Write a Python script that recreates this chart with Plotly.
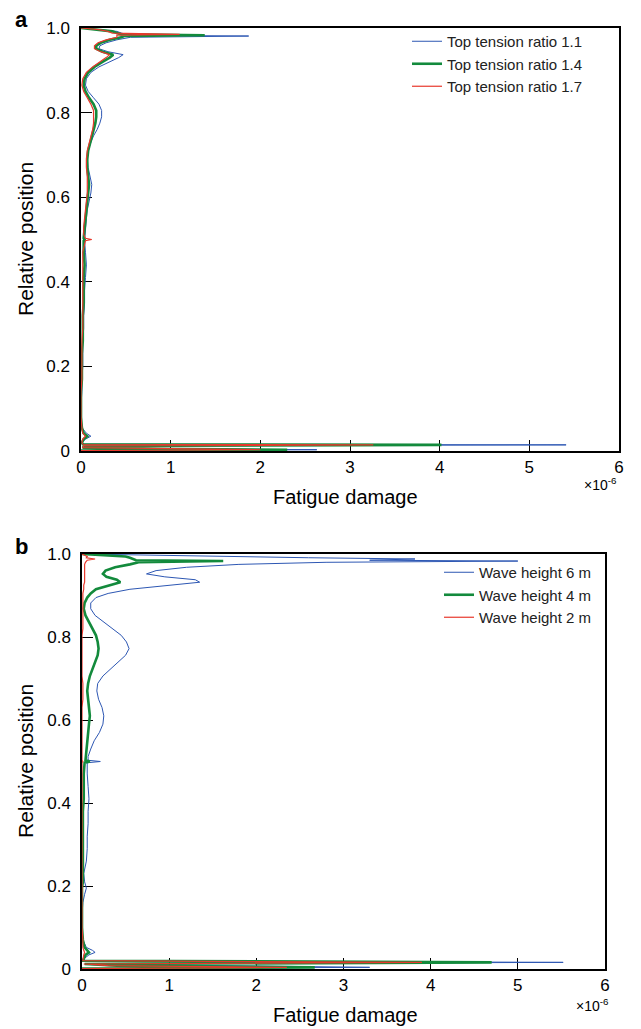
import plotly.graph_objects as go

W, H = 641, 1029

# ---------------- (a) top tension ratio ----------------
position_a = [
    1.000, 0.996, 0.992, 0.988, 0.985, 0.983, 0.981, 0.978, 0.972, 0.965,
    0.958, 0.951, 0.944, 0.937, 0.930, 0.920, 0.908, 0.895, 0.880, 0.865,
    0.850, 0.835, 0.820, 0.805, 0.790, 0.775, 0.760, 0.745, 0.730, 0.710,
    0.690, 0.670, 0.650, 0.630, 0.610, 0.590, 0.570, 0.550, 0.530, 0.512,
    0.503, 0.500, 0.497, 0.470, 0.440, 0.410, 0.380, 0.350, 0.320, 0.290,
    0.260, 0.230, 0.200, 0.170, 0.140, 0.110, 0.080, 0.055, 0.042, 0.035,
    0.028, 0.020, 0.016, 0.0145, 0.012, 0.008, 0.005, 0.003, 0.001,
]
damage_ttr_11 = [
    0.00, 0.25, 0.40, 0.45, 0.50, 0.55, 1.87, 0.55, 0.40, 0.28,
    0.21, 0.20, 0.30, 0.47, 0.42, 0.32, 0.20, 0.11, 0.06, 0.05,
    0.08, 0.14, 0.20, 0.23, 0.23, 0.21, 0.18, 0.14, 0.11, 0.08,
    0.07, 0.08, 0.10, 0.12, 0.11, 0.09, 0.07, 0.06, 0.05, 0.04,
    0.04, 0.04, 0.04, 0.05, 0.06, 0.05, 0.04, 0.04, 0.03, 0.03,
    0.02, 0.02, 0.02, 0.01, 0.01, 0.00, 0.00, 0.01, 0.06, 0.11,
    0.05, 0.01, 0.02, 5.41, 0.05, 0.02, 0.50, 2.63, 0.00,
]
damage_ttr_14 = [
    0.00, 0.22, 0.35, 0.40, 0.45, 1.38, 0.48, 0.45, 0.32, 0.22,
    0.17, 0.17, 0.24, 0.36, 0.32, 0.24, 0.15, 0.08, 0.04, 0.03,
    0.05, 0.09, 0.14, 0.17, 0.17, 0.16, 0.14, 0.12, 0.10, 0.08,
    0.07, 0.07, 0.08, 0.09, 0.08, 0.07, 0.06, 0.05, 0.04, 0.03,
    0.03, 0.04, 0.03, 0.03, 0.04, 0.03, 0.03, 0.03, 0.02, 0.02,
    0.02, 0.01, 0.01, 0.01, 0.00, 0.00, 0.00, 0.01, 0.03, 0.07,
    0.03, 0.01, 0.02, 4.02, 0.04, 0.02, 0.86, 2.30, 0.00,
]
damage_ttr_17 = [
    0.00, 0.20, 0.30, 0.35, 1.10, 0.40, 0.40, 0.40, 0.28, 0.19,
    0.15, 0.15, 0.22, 0.32, 0.28, 0.21, 0.13, 0.06, 0.02, 0.01,
    0.03, 0.07, 0.11, 0.14, 0.14, 0.14, 0.13, 0.11, 0.09, 0.07,
    0.06, 0.06, 0.07, 0.07, 0.07, 0.06, 0.05, 0.04, 0.03, 0.03,
    0.05, 0.12, 0.05, 0.02, 0.02, 0.02, 0.02, 0.02, 0.02, 0.02,
    0.01, 0.01, 0.01, 0.01, 0.00, 0.00, 0.00, 0.01, 0.02, 0.05,
    0.02, 0.01, 0.02, 3.26, 0.03, 0.02, 0.90, 2.00, 0.00,
]

# ---------------- (b) wave height ----------------
position_b = [
    1.000, 0.997, 0.994, 0.991, 0.988, 0.985, 0.983, 0.980, 0.975, 0.968,
    0.960, 0.952, 0.945, 0.938, 0.932, 0.925, 0.915, 0.905, 0.895, 0.882,
    0.868, 0.852, 0.836, 0.820, 0.804, 0.788, 0.772, 0.756, 0.740, 0.724,
    0.706, 0.688, 0.670, 0.650, 0.630, 0.610, 0.590, 0.570, 0.550, 0.530,
    0.512, 0.503, 0.500, 0.497, 0.470, 0.440, 0.410, 0.380, 0.350, 0.320,
    0.290, 0.260, 0.230, 0.210, 0.195, 0.180, 0.160, 0.130, 0.100, 0.070,
    0.052, 0.045, 0.040, 0.034, 0.026, 0.020, 0.016, 0.012, 0.008, 0.004,
    0.001,
]
damage_wh_6 = [
    0.00, 0.80, 1.80, 2.60, 3.82, 3.30, 5.00, 2.80, 1.80, 1.20,
    0.85, 0.74, 0.95, 1.30, 1.35, 1.00, 0.55, 0.30, 0.16, 0.10,
    0.10, 0.15, 0.25, 0.36, 0.45, 0.51, 0.54, 0.50, 0.42, 0.33,
    0.24, 0.18, 0.17, 0.19, 0.23, 0.25, 0.24, 0.20, 0.14, 0.10,
    0.07, 0.07, 0.21, 0.06, 0.06, 0.07, 0.08, 0.07, 0.07, 0.06,
    0.06, 0.05, 0.02, 0.03, 0.05, 0.03, 0.01, 0.00, 0.00, 0.01,
    0.05, 0.12, 0.15, 0.08, 0.03, 0.02, 5.52, 0.05, 1.57, 3.30,
    0.00,
]
damage_wh_4 = [
    0.00, 0.30, 0.50, 0.55, 0.60, 0.62, 1.62, 0.65, 0.55, 0.38,
    0.27, 0.24, 0.28, 0.40, 0.44, 0.32, 0.16, 0.10, 0.06, 0.03,
    0.02, 0.04, 0.08, 0.12, 0.16, 0.18, 0.19, 0.18, 0.15, 0.12,
    0.09, 0.07, 0.06, 0.07, 0.08, 0.09, 0.08, 0.07, 0.06, 0.05,
    0.04, 0.04, 0.09, 0.03, 0.02, 0.02, 0.02, 0.01, 0.01, 0.01,
    0.01, 0.01, 0.01, 0.01, 0.00, 0.00, 0.00, 0.00, 0.00, 0.01,
    0.03, 0.06, 0.08, 0.04, 0.02, 0.01, 4.70, 0.03, 0.40, 2.67,
    0.00,
]
damage_wh_2 = [
    0.00, 0.04, 0.06, 0.05, 0.15, 0.06, 0.05, 0.04, 0.03, 0.03,
    0.03, 0.03, 0.03, 0.03, 0.03, 0.02, 0.02, 0.01, 0.01, 0.01,
    0.01, 0.01, 0.01, 0.01, 0.00, 0.00, 0.00, 0.00, 0.00, 0.00,
    0.00, 0.01, 0.01, 0.01, 0.00, 0.00, 0.00, 0.00, 0.00, 0.00,
    0.00, 0.00, 0.01, 0.00, 0.00, 0.00, 0.00, 0.00, 0.00, 0.00,
    0.00, 0.00, 0.00, 0.00, 0.00, 0.00, 0.00, 0.00, 0.00, 0.01,
    0.01, 0.02, 0.03, 0.02, 0.01, 0.01, 3.90, 0.02, 0.30, 2.35,
    0.00,
]

x_ticks = [0, 1, 2, 3, 4, 5, 6]
y_ticks = [0, 0.2, 0.4, 0.6, 0.8, 1.0]
y_ticktext = ["0", "0.2", "0.4", "0.6", "0.8", "1.0"]

BLUE, GREEN, RED = "#2d57b3", "#138a3c", "#e8382c"
FONT = "Arial, Liberation Sans, sans-serif"

fig = go.Figure()

series_a = [
    ("Top tension ratio 1.1", damage_ttr_11, BLUE, 1.0),
    ("Top tension ratio 1.4", damage_ttr_14, GREEN, 2.6),
    ("Top tension ratio 1.7", damage_ttr_17, RED, 1.2),
]
for name, dmg, color, width in series_a:
    fig.add_trace(go.Scatter(
        x=dmg, y=position_a, mode="lines", name=name,
        line=dict(color=color, width=width),
        xaxis="x", yaxis="y", legend="legend", legendgroup=name,
    ))

series_b = [
    ("Wave height 6 m", damage_wh_6, BLUE, 1.0),
    ("Wave height 4 m", damage_wh_4, GREEN, 2.6),
    ("Wave height 2 m", damage_wh_2, RED, 1.2),
]
for name, dmg, color, width in series_b:
    fig.add_trace(go.Scatter(
        x=dmg, y=position_b, mode="lines", name=name,
        line=dict(color=color, width=width),
        xaxis="x2", yaxis="y2", legend="legend2", legendgroup=name,
    ))


def px_x(p):
    return p / W


def px_y(p):
    return 1 - p / H


axis_common = dict(
    showline=True, mirror=True, linecolor="black", linewidth=1.5,
    ticks="inside", ticklen=11, tickwidth=1.2, tickcolor="black",
    showgrid=False, zeroline=False, layer="below traces", automargin=False,
    tickfont=dict(family=FONT, size=17, color="black"),
)

legend_common = dict(
    xanchor="left", yanchor="top", bgcolor="rgba(0,0,0,0)", tracegroupgap=0,
    font=dict(family=FONT, size=15, color="#222"),
)

fig.update_layout(
    width=W, height=H,
    margin=dict(l=0, r=0, t=0, b=0, autoexpand=False),
    paper_bgcolor="white", plot_bgcolor="white",
    font=dict(family=FONT, color="black"),
    xaxis=dict(domain=[px_x(81), px_x(619)], anchor="y", range=[0, 6],
               tickvals=x_ticks, **axis_common),
    yaxis=dict(domain=[px_y(451), px_y(28)], anchor="x", range=[0, 1.0],
               tickvals=y_ticks, ticktext=y_ticktext, ticklabelstandoff=6,
               **axis_common),
    xaxis2=dict(domain=[px_x(82), px_x(605)], anchor="y2", range=[0, 6],
                tickvals=x_ticks, **axis_common),
    yaxis2=dict(domain=[px_y(969), px_y(554)], anchor="x2", range=[0, 1.0],
                tickvals=y_ticks, ticktext=y_ticktext, ticklabelstandoff=6,
                **axis_common),
    legend=dict(x=px_x(407), y=px_y(25), **legend_common),
    legend2=dict(x=px_x(439), y=px_y(556), **legend_common),
    showlegend=True,
)

annotations = [
    dict(text="<b>a</b>", x=px_x(21), y=px_y(20), font=dict(size=22)),
    dict(text="<b>b</b>", x=px_x(21), y=px_y(546), font=dict(size=22)),
    dict(text="Fatigue damage", x=px_x(345), y=px_y(497), font=dict(size=20)),
    dict(text="Fatigue damage", x=px_x(345), y=px_y(1015), font=dict(size=20)),
    dict(text="Relative position", x=px_x(25), y=px_y(239), textangle=-90,
         font=dict(size=21)),
    dict(text="Relative position", x=px_x(25), y=px_y(761), textangle=-90,
         font=dict(size=21)),
    dict(text="×10<sup>-6</sup>", x=px_x(619), y=px_y(484), xanchor="right",
         font=dict(size=14)),
    dict(text="×10<sup>-6</sup>", x=px_x(611), y=px_y(1005), xanchor="right",
         font=dict(size=14)),
]
for a in annotations:
    a.setdefault("xanchor", "center")
    a.update(xref="paper", yref="paper", yanchor="middle", showarrow=False)
    a["font"].update(family=FONT, color="black")
fig.update_layout(annotations=annotations)

fig.write_html("out.html")
